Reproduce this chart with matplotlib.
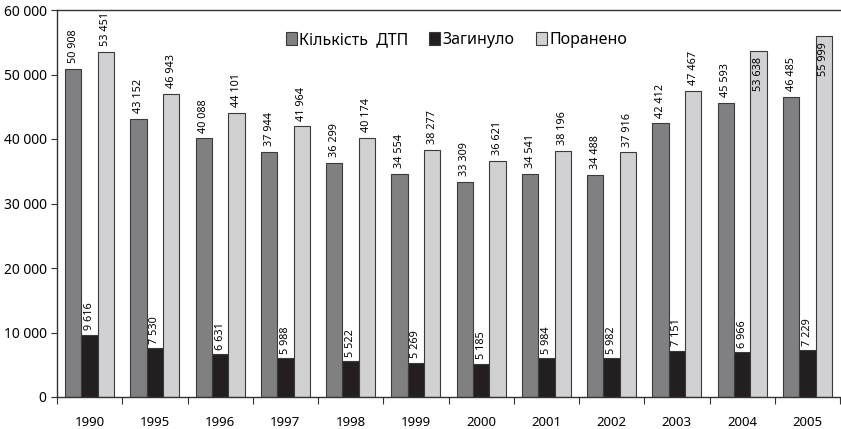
import matplotlib.pyplot as plt
import numpy as np

plt.rcParams['font.family'] = ['Noto Sans', 'DejaVu Sans']

years = ['1990', '1995', '1996', '1997', '1998', '1999', '2000',
         '2001', '2002', '2003', '2004', '2005']
dtp = [50908, 43152, 40088, 37944, 36299, 34554, 33309,
       34541, 34488, 42412, 45593, 46485]
killed = [9616, 7530, 6631, 5988, 5522, 5269, 5185,
          5984, 5982, 7151, 6966, 7229]
injured = [53451, 46943, 44101, 41964, 40174, 38277, 36621,
           38196, 37916, 47467, 53638, 55999]
names = ['Кількість  ДТП', 'Загинуло', 'Поранено']
colors = ['#808083', '#231f20', '#d1d1d3']


def fmt(v):
    return '{:,}'.format(v).replace(',', ' ')


fig = plt.figure(figsize=(8.41, 4.29), dpi=100)
ax = fig.add_axes([57/841, 32/429, 783/841, 387/429])

x = np.arange(len(years))
w = 0.25
series = [dtp, killed, injured]
for k, vals in enumerate(series):
    pos = x + (k - 1) * w
    ax.bar(pos, vals, width=w, color=colors[k], edgecolor='#3a3a3a',
           linewidth=0.8, label=names[k], zorder=2)
    for p, v in zip(pos, vals):
        if v > 53500:
            # no room above -> label goes inside the bar
            ax.text(p, v - 1000, fmt(v), rotation=90, ha='center', va='top',
                    fontsize=7.8, zorder=4)
        elif k == 1:
            ax.text(p, v + 700, fmt(v), rotation=90, ha='center', va='bottom',
                    fontsize=7.8, zorder=4,
                    bbox=dict(boxstyle='square,pad=0.15', fc='white', ec='none'))
        else:
            ax.text(p, v + 900, fmt(v), rotation=90, ha='center', va='bottom',
                    fontsize=7.8, zorder=4)

ax.set_xlim(-0.5, len(years) - 0.5)
ax.set_ylim(0, 60000)
ax.set_yticks(np.arange(0, 60001, 10000))
ax.set_yticklabels([fmt(v) for v in range(0, 60001, 10000)], fontsize=10)

ax.set_xticks(np.arange(-0.5, len(years), 1.0))
ax.set_xticklabels([])
ax.set_xticks(x, minor=True)
ax.set_xticklabels(years, minor=True, fontsize=9.5)
ax.tick_params(axis='x', which='minor', length=0, pad=14)
ax.tick_params(axis='x', which='major', length=5, color='#333333')
ax.tick_params(axis='y', length=4, color='#333333')

ax.spines['right'].set_visible(False)
for s in ['left', 'top', 'bottom']:
    ax.spines[s].set_color('#333333')
    ax.spines[s].set_linewidth(1.0)

ax.legend(loc='upper center', bbox_to_anchor=(0.51, 0.98), ncol=3,
          frameon=False, fontsize=11.5, handlelength=0.7, handleheight=0.9,
          handletextpad=0.15, columnspacing=1.3)

fig.savefig('out.png', dpi=100)
